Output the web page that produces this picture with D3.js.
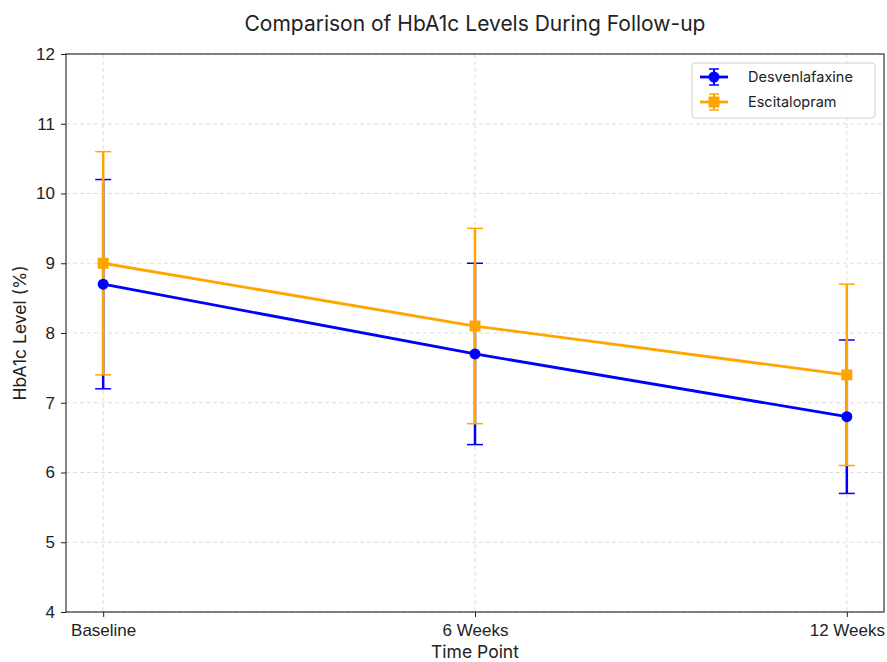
<!DOCTYPE html>
<html>
<head>
<meta charset="utf-8">
<script src="https://cdn.jsdelivr.net/npm/d3@7"></script>
<style>
  body { margin: 0; background: #fff; }
  svg { font-family: Inter, "Noto Sans", sans-serif; }
  .grid line { stroke: #d9d9d9; stroke-dasharray: 4 3; stroke-width: 0.9; }
  .axis text { font-size: 17px; fill: #222; }
  .axis path, .axis line { stroke: #222; }
</style>
</head>
<body>
<div id="chart"></div>
<script>
// data
const timePoints = ['Baseline', '6 Weeks', '12 Weeks'];
const desvenlafaxineMean = [8.7, 7.7, 6.8];
const desvenlafaxineErr = [1.5, 1.3, 1.1];
const escitalopramMean = [9.0, 8.1, 7.4];
const escitalopramErr = [1.6, 1.4, 1.3];
const yTicks = [4, 5, 6, 7, 8, 9, 10, 11, 12];

const series = [
    { name: 'Desvenlafaxine', color: '#0000ff', marker: 'circle', mean: desvenlafaxineMean, err: desvenlafaxineErr },
    { name: 'Escitalopram', color: '#ffa500', marker: 'square', mean: escitalopramMean, err: escitalopramErr }
];

const width = 887, height = 662;
const margin = { top: 54, right: 3, bottom: 50, left: 66 };

const svg = d3.select('#chart').append('svg')
    .attr('width', width)
    .attr('height', height);

const plotW = width - margin.left - margin.right;
const plotH = height - margin.top - margin.bottom;

const plot = svg.append('g')
    .attr('transform', `translate(${margin.left},${margin.top})`);

const xScale = d3.scalePoint()
    .domain(timePoints)
    .range([0, plotW])
    .padding(0.1);

const yScale = d3.scaleLinear()
    .domain([4, 12])
    .range([plotH, 0]);

// grid
plot.append('g').attr('class', 'grid')
    .selectAll('line.h')
    .data(yTicks)
    .enter().append('line')
    .attr('x1', 0).attr('x2', plotW)
    .attr('y1', d => yScale(d)).attr('y2', d => yScale(d));

plot.append('g').attr('class', 'grid')
    .selectAll('line.v')
    .data(timePoints)
    .enter().append('line')
    .attr('y1', 0).attr('y2', plotH)
    .attr('x1', d => xScale(d)).attr('x2', d => xScale(d));

// error bars (under the lines)
const capW = 8;
series.forEach(s => {
    const g = plot.append('g');
    timePoints.forEach((t, i) => {
        const x = xScale(t);
        const lo = yScale(s.mean[i] - s.err[i]);
        const hi = yScale(s.mean[i] + s.err[i]);
        g.append('line')
            .attr('x1', x).attr('x2', x).attr('y1', lo).attr('y2', hi)
            .attr('stroke', s.color).attr('stroke-width', 2.5);
        [lo, hi].forEach(y => {
            g.append('line')
                .attr('x1', x - capW).attr('x2', x + capW).attr('y1', y).attr('y2', y)
                .attr('stroke', s.color).attr('stroke-width', 1.5);
        });
    });
});

const line = d3.line()
    .x((d, i) => xScale(timePoints[i]))
    .y(d => yScale(d));

series.forEach(s => {
    plot.append('path')
        .datum(s.mean)
        .attr('fill', 'none')
        .attr('stroke', s.color)
        .attr('stroke-width', 2.8)
        .attr('d', line);

    if (s.marker === 'circle') {
        plot.selectAll(null)
            .data(s.mean)
            .enter().append('circle')
            .attr('cx', (d, i) => xScale(timePoints[i]))
            .attr('cy', d => yScale(d))
            .attr('r', 5.5)
            .attr('fill', s.color);
    } else {
        plot.selectAll(null)
            .data(s.mean)
            .enter().append('rect')
            .attr('x', (d, i) => xScale(timePoints[i]) - 5.5)
            .attr('y', d => yScale(d) - 5.5)
            .attr('width', 11).attr('height', 11)
            .attr('fill', s.color);
    }
});

// axes
const xAxis = plot.append('g')
    .attr('class', 'x axis')
    .attr('transform', `translate(0,${plotH})`)
    .call(d3.axisBottom(xScale).tickSize(5).tickPadding(7));

const yAxis = plot.append('g')
    .attr('class', 'y axis')
    .call(d3.axisLeft(yScale).tickValues(yTicks).tickSize(5).tickPadding(6));

[xAxis, yAxis].forEach(a => a.select('.domain').remove());

// frame
plot.append('rect')
    .attr('width', plotW).attr('height', plotH)
    .attr('fill', 'none').attr('stroke', '#222').attr('stroke-width', 1.1);

// titles
svg.append('text')
    .attr('x', margin.left + plotW / 2).attr('y', 31)
    .attr('text-anchor', 'middle')
    .style('font-size', '21px').style('fill', '#222')
    .text('Comparison of HbA1c Levels During Follow-up');

svg.append('text')
    .attr('x', margin.left + plotW / 2).attr('y', 658)
    .attr('text-anchor', 'middle')
    .style('font-size', '17.5px').style('fill', '#222')
    .text('Time Point');

svg.append('text')
    .attr('transform', `translate(26,${margin.top + plotH / 2}) rotate(-90)`)
    .attr('text-anchor', 'middle')
    .style('font-size', '17.5px').style('fill', '#222')
    .text('HbA1c Level (%)');

// legend
const legend = plot.append('g')
    .attr('transform', `translate(${plotW - 192},9)`);

legend.append('rect')
    .attr('width', 183).attr('height', 55)
    .attr('rx', 3)
    .attr('fill', 'white').attr('fill-opacity', 0.85)
    .attr('stroke', '#d0d0d0');

series.forEach((s, i) => {
    const g = legend.append('g').attr('transform', `translate(0,${14 + i * 25})`);
    g.append('line').attr('x1', 8).attr('x2', 36).attr('y1', 0).attr('y2', 0)
        .attr('stroke', s.color).attr('stroke-width', 2.8);
    g.append('line').attr('x1', 22).attr('x2', 22).attr('y1', -8).attr('y2', 8)
        .attr('stroke', s.color).attr('stroke-width', 2);
    [-8, 8].forEach(y => g.append('line')
        .attr('x1', 17).attr('x2', 27).attr('y1', y).attr('y2', y)
        .attr('stroke', s.color).attr('stroke-width', 1.5));
    if (s.marker === 'circle') {
        g.append('circle').attr('cx', 22).attr('cy', 0).attr('r', 5.5).attr('fill', s.color);
    } else {
        g.append('rect').attr('x', 16.5).attr('y', -5.5).attr('width', 11).attr('height', 11).attr('fill', s.color);
    }
    g.append('text')
        .attr('x', 56).attr('y', 5)
        .style('font-size', '14.5px').style('fill', '#222')
        .text(s.name);
});
</script>
</body>
</html>
